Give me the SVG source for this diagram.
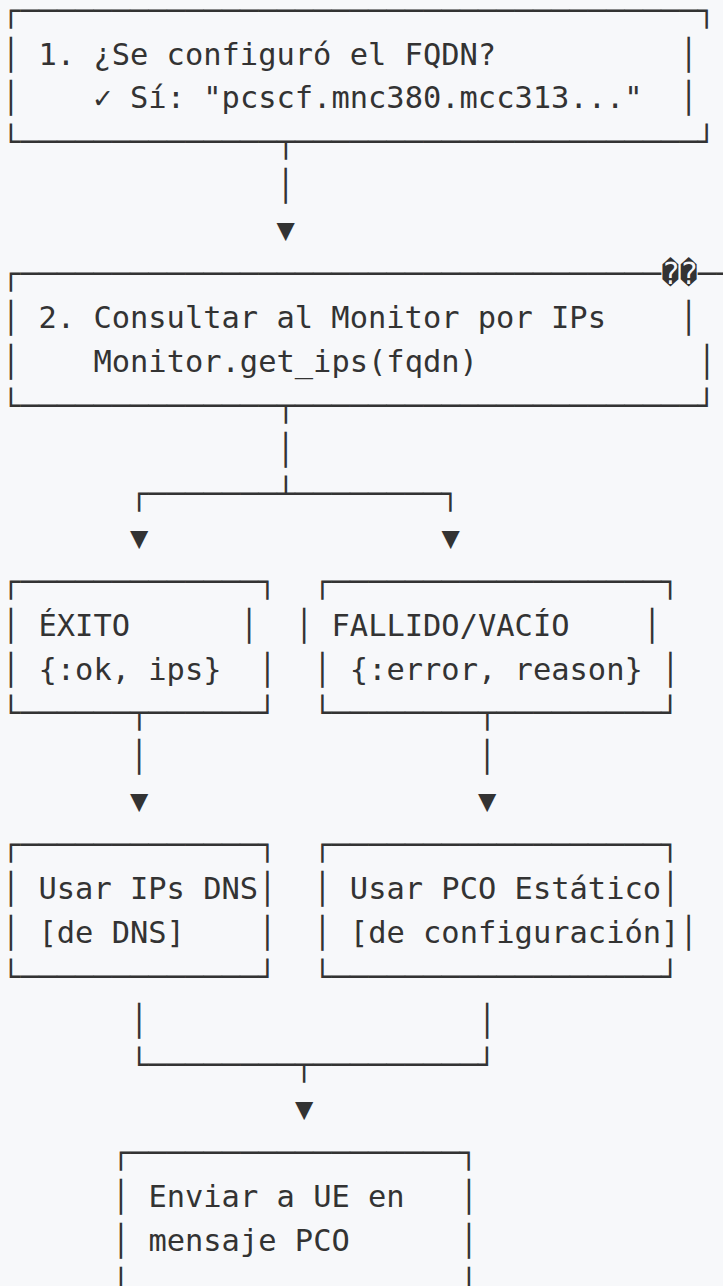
<svg xmlns="http://www.w3.org/2000/svg" width="723" height="1286" viewBox="0 0 723 1286" xml:space="preserve">
<style>
.t { font-family: "DejaVu Sans Mono", "Liberation Mono", monospace; font-size: 30.42px; fill: #333333; white-space: pre; }
</style>
<rect x="0" y="0" width="723" height="1286" fill="#f7f8fa"/>
<g id="node-1-fqdn">
<text class="t" x="1.85" y="20.6">┌─────────────────────────────────────┐</text>
<text class="t" x="1.85" y="64.53">│</text><text class="t" x="38.48" y="64.53">1. ¿Se configuró el FQDN?</text><text class="t" x="679.54" y="64.53">│</text>
<text class="t" x="1.85" y="108.46">│</text><text class="t" x="93.43" y="108.46">✓</text><text class="t" x="130.06" y="108.46">Sí: "pcscf.mnc380.mcc313..."</text><text class="t" x="679.54" y="108.46">│</text>
<text class="t" x="1.85" y="152.39">└──────────────┬──────────────────────┘</text>
</g>
<g id="node-2-monitor">
<text class="t" x="1.85" y="284.18">┌───────────────────────────────────</text><text class="t" x="661.23" y="284.18">�</text><text class="t" x="679.54" y="284.18">�</text><text class="t" x="697.86" y="284.18">──</text>
<text class="t" x="1.85" y="328.11">│</text><text class="t" x="38.48" y="328.11">2. Consultar al Monitor por IPs</text><text class="t" x="679.54" y="328.11">│</text>
<text class="t" x="1.85" y="372.04">│</text><text class="t" x="93.43" y="372.04">Monitor.get_ips(fqdn)</text><text class="t" x="697.86" y="372.04">│</text>
<text class="t" x="1.85" y="415.97">└──────────────┬──────────────────────┘</text>
</g>
<g id="node-3-exito">
<text class="t" x="1.85" y="591.69">┌─────────────┐</text>
<text class="t" x="1.85" y="635.62">│</text><text class="t" x="38.48" y="635.62">ÉXITO</text><text class="t" x="239.96" y="635.62">│</text>
<text class="t" x="1.85" y="679.55">│</text><text class="t" x="38.48" y="679.55">{:ok, ips}</text><text class="t" x="258.27" y="679.55">│</text>
<text class="t" x="1.85" y="723.48">└──────┬──────┘</text>
</g>
<g id="node-4-fallido">
<text class="t" x="313.22" y="591.69">┌──────────────────┐</text>
<text class="t" x="294.91" y="635.62">│</text><text class="t" x="331.54" y="635.62">FALLIDO/VACÍO</text><text class="t" x="642.91" y="635.62">│</text>
<text class="t" x="313.22" y="679.55">│</text><text class="t" x="349.85" y="679.55">{:error, reason}</text><text class="t" x="661.23" y="679.55">│</text>
<text class="t" x="313.22" y="723.48">└────────┬─────────┘</text>
</g>
<g id="node-5-dns">
<text class="t" x="1.85" y="855.27">┌─────────────┐</text>
<text class="t" x="1.85" y="899.2">│</text><text class="t" x="38.48" y="899.2">Usar IPs DNS</text><text class="t" x="258.27" y="899.2">│</text>
<text class="t" x="1.85" y="943.13">│</text><text class="t" x="38.48" y="943.13">[de DNS]</text><text class="t" x="258.27" y="943.13">│</text>
<text class="t" x="1.85" y="987.06">└─────────────┘</text>
</g>
<g id="node-6-estatico">
<text class="t" x="313.22" y="855.27">┌──────────────────┐</text>
<text class="t" x="313.22" y="899.2">│</text><text class="t" x="349.85" y="899.2">Usar PCO Estático</text><text class="t" x="661.23" y="899.2">│</text>
<text class="t" x="313.22" y="943.13">│</text><text class="t" x="349.85" y="943.13">[de configuración]</text><text class="t" x="679.54" y="943.13">│</text>
<text class="t" x="313.22" y="987.06">└──────────────────┘</text>
</g>
<g id="node-7-enviar">
<text class="t" x="111.75" y="1162.78">┌──────────────────┐</text>
<text class="t" x="111.75" y="1206.71">│</text><text class="t" x="148.38" y="1206.71">Enviar a UE en</text><text class="t" x="459.74" y="1206.71">│</text>
<text class="t" x="111.75" y="1250.64">│</text><text class="t" x="148.38" y="1250.64">mensaje PCO</text><text class="t" x="459.74" y="1250.64">│</text>
<text class="t" x="111.75" y="1294.57">│</text><text class="t" x="459.74" y="1294.57">│</text>
</g>
<g id="connectors">
<text class="t" x="276.59" y="196.32">│</text>
<text class="t" x="276.59" y="240.25">▼</text>
<text class="t" x="276.59" y="459.9">│</text>
<text class="t" x="130.06" y="503.83">┌───────┴────────┐</text>
<text class="t" x="130.06" y="547.76">▼</text>
<text class="t" x="441.43" y="547.76">▼</text>
<text class="t" x="130.06" y="767.41">│</text>
<text class="t" x="478.07" y="767.41">│</text>
<text class="t" x="130.06" y="811.34">▼</text>
<text class="t" x="478.07" y="811.34">▼</text>
<text class="t" x="130.06" y="1030.99">│</text>
<text class="t" x="478.07" y="1030.99">│</text>
<text class="t" x="130.06" y="1074.92">└────────┬─────────┘</text>
<text class="t" x="294.91" y="1118.85">▼</text>
</g>
</svg>
